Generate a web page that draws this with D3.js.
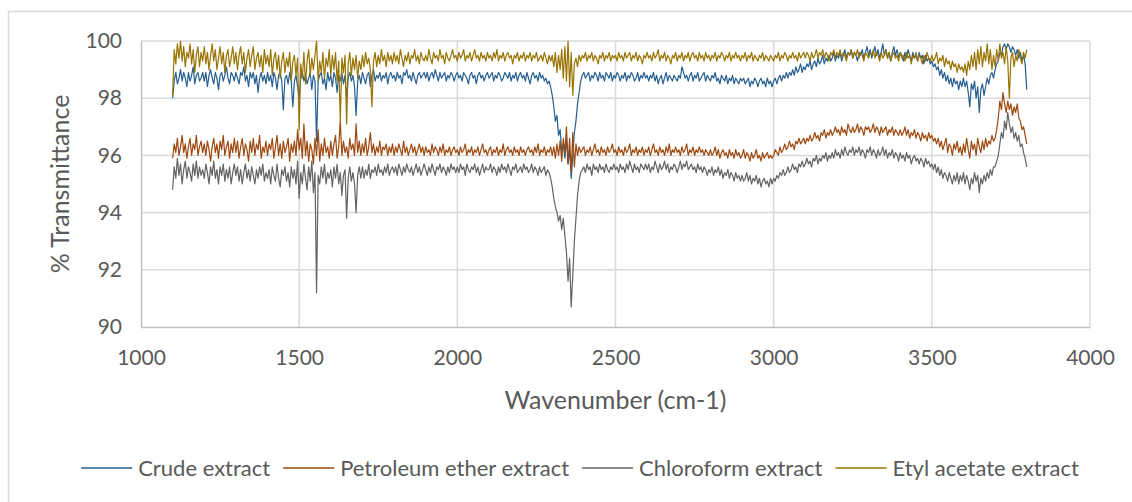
<!DOCTYPE html>
<html>
<head>
<meta charset="utf-8">
<script src="https://cdn.jsdelivr.net/npm/d3@7"></script>
<style>
	body { margin: 0; background: #fff; }
	svg { display: block; font-family: Lato, "Open Sans", sans-serif; }
</style>
</head>
<body>
<div id="chart"></div>
<script>
// Wavenumber grid: 1100 .. 3800 cm-1, one reading every 5 cm-1
var waveStart = 1100, waveStep = 5;

var seriesNames = ["Crude extract", "Petroleum ether extract", "Chloroform extract", "Etyl acetate extract"];
var xTicks = [1000, 1500, 2000, 2500, 3000, 3500, 4000];
var yTicks = [90, 92, 94, 96, 98, 100];

// % transmittance (one row = 100 cm-1)
var crude = [
	98.0, 98.6, 98.9, 98.5, 98.7, 99.0, 98.6, 98.9, 98.7, 98.4, 98.9, 98.6, 98.8, 99.1, 98.5, 98.8, 98.9, 98.6, 98.7, 98.9,
	98.6, 98.9, 98.4, 98.8, 99.0, 98.7, 98.5, 98.9, 98.7, 98.3, 98.8, 98.9, 98.6, 98.8, 99.1, 98.7, 98.5, 98.9, 98.8, 98.6,
	98.9, 98.7, 98.5, 98.9, 98.8, 99.1, 98.6, 98.8, 98.4, 98.9, 98.7, 98.9, 98.5, 98.8, 98.2, 98.7, 98.9, 98.6, 98.8, 98.5,
	98.9, 98.6, 98.8, 98.4, 98.9, 98.7, 98.3, 98.8, 98.9, 98.6, 97.6, 98.7, 98.8, 98.5, 98.9, 98.6, 97.7, 98.6, 98.8, 98.4,
	98.0, 98.7, 98.9, 98.6, 98.8, 98.5, 98.7, 98.9, 98.3, 98.8, 98.6, 96.5, 98.6, 98.8, 98.9, 98.5, 98.7, 98.3, 98.9, 98.6,
	98.8, 98.4, 98.9, 98.7, 98.2, 98.8, 98.6, 98.9, 98.5, 98.8, 98.0, 98.7, 98.9, 98.6, 98.8, 98.4, 97.4, 98.6, 98.8, 98.5,
	98.9, 98.7, 98.5, 98.8, 98.9, 98.4, 98.8, 99.0, 98.6, 98.8, 98.7, 98.9, 98.6, 98.8, 98.7, 98.9, 98.5, 98.8, 98.9, 98.7,
	98.8, 98.6, 98.9, 98.7, 98.8, 98.5, 98.9, 98.8, 99.0, 98.7, 98.8, 98.6, 98.9, 98.7, 98.5, 98.8, 98.9, 98.7, 98.8, 98.9,
	98.7, 98.9, 98.6, 98.8, 98.9, 98.7, 99.0, 98.8, 98.6, 98.9, 98.7, 98.8, 98.9, 98.6, 98.8, 98.7, 98.9, 98.8, 98.6, 98.8,
	98.9, 98.7, 98.8, 98.6, 98.9, 98.8, 98.7, 98.5, 98.8, 98.9, 98.7, 98.8, 98.5, 98.8, 98.9, 98.7, 98.8, 98.6, 98.8, 98.9,
	98.7, 98.8, 98.9, 98.6, 98.8, 98.7, 98.9, 98.8, 98.6, 98.7, 98.9, 98.8, 98.7, 98.9, 98.6, 98.8, 98.7, 98.9, 98.6, 98.8,
	98.9, 98.7, 98.8, 98.6, 98.9, 98.7, 98.5, 98.8, 98.9, 98.7, 98.8, 98.6, 98.9, 98.7, 98.8, 98.6, 98.7, 98.5, 98.6, 98.4,
	98.1, 97.7, 97.2, 97.4, 96.7, 96.9, 96.1, 96.4, 95.9, 96.6, 95.7, 96.2, 95.2, 96.0, 96.8, 97.2, 97.8, 98.2, 98.6, 98.8,
	98.9, 98.7, 98.8, 98.9, 98.6, 98.8, 98.7, 98.9, 98.8, 98.6, 98.9, 98.7, 98.8, 98.6, 98.9, 98.8, 98.7, 98.9, 98.6, 98.8,
	98.7, 98.9, 98.8, 98.6, 98.8, 98.7, 98.9, 98.6, 98.8, 98.7, 98.9, 98.8, 98.6, 98.7, 98.9, 98.6, 98.8, 98.7, 98.9, 98.7,
	98.8, 98.6, 98.8, 98.7, 98.9, 98.6, 98.8, 98.5, 98.7, 98.8, 98.5, 98.7, 98.9, 98.6, 98.8, 98.7, 98.6, 98.8, 98.7, 98.6,
	98.8, 98.7, 99.1, 98.9, 98.7, 98.8, 98.6, 98.8, 98.9, 98.6, 98.8, 98.7, 98.9, 98.6, 98.7, 98.8, 98.9, 98.6, 98.8, 98.7,
	98.6, 98.8, 98.7, 98.9, 98.6, 98.7, 98.5, 98.8, 98.7, 98.6, 98.8, 98.5, 98.7, 98.6, 98.8, 98.5, 98.7, 98.6, 98.5, 98.7,
	98.6, 98.7, 98.5, 98.6, 98.7, 98.4, 98.6, 98.5, 98.7, 98.6, 98.4, 98.6, 98.7, 98.5, 98.6, 98.4, 98.7, 98.5, 98.6, 98.4,
	98.6, 98.7, 98.5, 98.7, 98.8, 98.6, 98.8, 98.7, 98.9, 98.7, 98.9, 98.8, 99.0, 98.8, 99.1, 98.9, 99.0, 99.2, 98.9, 99.1,
	99.0, 99.2, 99.1, 99.3, 99.0, 99.2, 99.3, 99.1, 99.4, 99.2, 99.3, 99.5, 99.2, 99.4, 99.3, 99.5, 99.3, 99.4, 99.6, 99.3,
	99.5, 99.4, 99.6, 99.3, 99.5, 99.7, 99.4, 99.6, 99.5, 99.7, 99.4, 99.6, 99.5, 99.3, 99.6, 99.5, 99.7, 99.4, 99.6, 99.8,
	99.5, 99.7, 99.4, 99.6, 99.8, 99.5, 99.7, 99.4, 99.6, 99.9, 99.5, 99.7, 99.4, 99.6, 99.3, 99.6, 99.8, 99.5, 99.7, 99.4,
	99.6, 99.5, 99.3, 99.6, 99.4, 99.7, 99.5, 99.3, 99.6, 99.4, 99.5, 99.3, 99.6, 99.4, 99.5, 99.2, 99.5, 99.3, 99.4, 99.2,
	99.3, 99.1, 99.2, 99.0, 99.1, 98.8, 99.0, 98.7, 98.9, 98.6, 98.8, 98.5, 98.7, 98.4, 98.7, 98.5, 98.6, 98.3, 98.6, 98.4,
	98.7, 98.4, 98.6, 98.2, 97.7, 98.5, 98.3, 98.6, 98.0, 98.4, 97.5, 98.3, 98.5, 98.1, 98.4, 98.7, 98.5, 98.8, 98.9, 98.7,
	99.0, 99.2, 99.3, 99.6, 99.5, 99.8, 99.9, 99.7, 99.9, 99.8, 99.6, 99.8, 99.7, 99.5, 99.7, 99.4, 99.6, 99.3, 99.5, 99.2,
	98.3
];

var petroleum = [
	95.9, 96.4, 96.1, 96.6, 96.0, 96.3, 96.7, 96.1, 96.4, 95.9, 96.3, 96.6, 96.0, 96.4, 96.2, 96.7, 96.0, 96.3, 96.5, 96.1,
	96.4, 96.0, 96.5, 96.2, 95.8, 96.3, 96.6, 96.1, 96.4, 95.9, 96.5, 96.2, 96.7, 96.0, 96.3, 96.5, 95.9, 96.4, 96.1, 96.6,
	96.1, 96.5, 95.9, 96.3, 96.6, 96.0, 96.4, 96.2, 95.8, 96.5, 96.1, 96.6, 96.0, 96.4, 96.2, 96.7, 95.9, 96.3, 96.1, 96.5,
	96.0, 96.4, 96.2, 96.6, 95.9, 96.3, 96.7, 96.0, 96.4, 95.9, 96.5, 96.1, 96.3, 96.6, 95.8, 96.4, 96.1, 96.5, 96.0, 96.9,
	96.2, 96.6, 95.9, 97.1, 96.0, 96.5, 95.8, 96.4, 96.2, 95.7, 96.6, 96.0, 96.9, 95.8, 96.4, 96.0, 96.6, 96.1, 96.3, 95.9,
	96.5, 96.0, 96.4, 96.7, 95.9, 96.3, 97.2, 96.0, 96.5, 96.1, 96.3, 95.9, 96.6, 96.2, 96.4, 96.0, 97.1, 96.1, 96.5, 96.0,
	96.4, 96.1, 96.6, 96.0, 96.3, 96.8, 96.1, 96.4, 96.0, 96.3, 96.1, 96.5, 96.0, 96.3, 96.2, 96.4, 96.0, 96.3, 96.1, 96.4,
	96.0, 96.3, 96.1, 96.4, 96.2, 96.0, 96.5, 96.1, 96.3, 96.0, 96.2, 96.4, 96.1, 96.3, 96.0, 96.2, 96.4, 96.1, 96.3, 96.0,
	96.3, 96.1, 96.2, 96.0, 96.4, 96.1, 96.3, 96.2, 96.0, 96.3, 96.1, 96.4, 96.0, 96.2, 96.1, 96.3, 96.0, 96.2, 96.3, 96.1,
	96.2, 96.0, 96.3, 96.1, 96.2, 96.4, 96.0, 96.2, 96.1, 96.3, 96.0, 96.2, 96.1, 96.3, 96.0, 96.2, 96.4, 96.1, 96.2, 96.0,
	96.2, 96.3, 96.0, 96.2, 96.1, 96.3, 96.0, 96.2, 96.1, 96.4, 96.0, 96.2, 96.3, 96.1, 96.2, 96.0, 96.3, 96.1, 96.2, 96.0,
	96.3, 96.1, 96.2, 96.0, 96.2, 96.3, 96.1, 96.2, 96.0, 96.3, 96.1, 96.4, 96.0, 96.2, 96.1, 96.3, 96.0, 96.2, 96.1, 96.3,
	96.0, 96.3, 95.9, 96.4, 96.0, 96.5, 95.8, 96.6, 96.1, 97.0, 95.7, 96.6, 95.4, 96.8, 95.6, 96.4, 96.0, 96.3, 96.1, 96.2,
	96.3, 96.0, 96.2, 96.1, 96.3, 96.0, 96.2, 96.4, 96.1, 96.2, 96.0, 96.3, 96.1, 96.2, 96.0, 96.3, 96.1, 96.2, 96.4, 96.1,
	96.2, 96.0, 96.3, 96.1, 96.2, 96.0, 96.3, 96.1, 96.2, 96.4, 96.0, 96.2, 96.1, 96.3, 96.0, 96.2, 96.1, 96.3, 96.0, 96.2,
	96.1, 96.3, 96.0, 96.2, 96.4, 96.1, 96.2, 96.0, 96.3, 96.1, 96.2, 96.0, 96.3, 96.1, 96.4, 96.0, 96.2, 96.1, 96.3, 96.1,
	96.2, 96.0, 96.3, 96.1, 96.2, 96.4, 96.0, 96.2, 96.1, 96.3, 96.0, 96.2, 96.1, 96.3, 96.1, 96.2, 96.0, 96.2, 96.1, 96.0,
	96.2, 96.0, 96.1, 96.3, 96.0, 96.2, 95.9, 96.1, 96.2, 96.0, 96.1, 95.9, 96.2, 96.0, 96.1, 95.9, 96.2, 96.0, 96.1, 95.9,
	96.0, 96.2, 95.9, 96.1, 96.0, 95.8, 96.1, 95.9, 96.0, 96.2, 95.9, 96.0, 95.8, 96.1, 95.9, 96.0, 96.1, 95.9, 96.0, 95.9,
	96.0, 96.2, 96.1, 96.0, 96.3, 96.1, 96.2, 96.4, 96.2, 96.3, 96.5, 96.3, 96.4, 96.2, 96.5, 96.4, 96.6, 96.4, 96.5, 96.6,
	96.4, 96.6, 96.5, 96.7, 96.5, 96.6, 96.8, 96.6, 96.7, 96.5, 96.8, 96.7, 96.9, 96.6, 96.8, 96.7, 96.9, 96.7, 96.8, 97.0,
	96.8, 96.9, 96.7, 97.0, 96.8, 96.9, 96.7, 97.1, 96.9, 96.8, 97.0, 96.8, 96.9, 97.1, 96.8, 97.0, 96.9, 96.7, 97.0, 96.9,
	97.0, 96.8, 96.9, 97.1, 96.8, 97.0, 96.9, 96.7, 97.0, 96.8, 96.9, 97.0, 96.7, 96.9, 96.8, 97.0, 96.7, 96.9, 96.8, 96.7,
	96.9, 96.7, 96.8, 97.0, 96.7, 96.9, 96.6, 96.8, 96.7, 96.9, 96.6, 96.8, 96.7, 96.5, 96.8, 96.6, 96.7, 96.5, 96.8, 96.6,
	96.7, 96.5, 96.6, 96.4, 96.6, 96.3, 96.5, 96.2, 96.4, 96.6, 96.1, 96.4, 96.3, 96.0, 96.4, 96.2, 96.5, 96.1, 96.3, 96.0,
	96.4, 96.1, 96.6, 96.2, 95.9, 96.5, 96.2, 96.4, 96.0, 96.6, 96.3, 96.1, 96.5, 96.2, 96.6, 96.3, 96.5, 96.4, 96.7, 96.5,
	96.6, 96.9, 97.3, 97.9, 97.6, 98.2, 97.8, 97.5, 97.9, 97.6, 97.8, 97.4, 97.7, 97.5, 97.8, 97.3, 97.2, 96.9, 97.0, 96.7,
	96.4
];

var chloroform = [
	94.8, 95.6, 95.2, 95.9, 95.3, 95.7, 95.0, 95.5, 95.8, 95.2, 95.6, 95.4, 95.1, 95.7, 95.3, 95.8, 95.2, 95.6, 95.3, 95.5,
	95.2, 95.7, 95.4, 95.0, 95.6, 95.3, 95.8, 95.2, 95.5, 95.0, 95.6, 95.3, 95.7, 95.1, 95.5, 95.2, 95.6, 95.0, 95.4, 95.7,
	95.3, 95.6, 95.1, 95.5, 95.0, 95.4, 95.7, 95.2, 95.5, 95.1, 95.6, 95.3, 95.0, 95.5, 95.2, 95.6, 95.3, 95.7, 95.1, 95.4,
	95.2, 95.5, 95.0, 95.6, 95.3, 95.1, 95.7, 95.2, 94.9, 95.5, 95.3, 95.6, 95.1, 95.4, 94.9, 95.6, 95.2, 95.5, 95.0, 95.8,
	94.5, 95.4, 95.0, 95.7, 95.2, 94.8, 95.6, 95.1, 95.8, 94.7, 95.4, 91.2, 95.3, 95.0, 95.6, 95.2, 95.7, 95.0, 95.4, 95.2,
	95.5, 94.9, 95.6, 95.2, 95.7, 95.0, 95.4, 94.6, 95.3, 95.5, 93.8, 95.2, 95.6, 95.1, 95.4, 95.0, 94.0, 95.3, 95.6, 95.2,
	95.6, 95.2, 95.5, 95.3, 95.7, 95.2, 95.5, 95.4, 95.6, 95.3, 95.7, 95.4, 95.5, 95.3, 95.6, 95.4, 95.7, 95.3, 95.5, 95.6,
	95.4, 95.6, 95.3, 95.7, 95.5, 95.3, 95.6, 95.4, 95.7, 95.5, 95.4, 95.6, 95.3, 95.5, 95.7, 95.4, 95.6, 95.3, 95.5, 95.7,
	95.5, 95.3, 95.6, 95.4, 95.7, 95.5, 95.3, 95.6, 95.5, 95.7, 95.4, 95.6, 95.5, 95.3, 95.6, 95.4, 95.7, 95.5, 95.6, 95.4,
	95.6, 95.4, 95.7, 95.5, 95.6, 95.3, 95.7, 95.5, 95.4, 95.6, 95.5, 95.7, 95.4, 95.6, 95.3, 95.5, 95.7, 95.4, 95.6, 95.5,
	95.5, 95.7, 95.4, 95.6, 95.5, 95.3, 95.6, 95.4, 95.7, 95.5, 95.6, 95.4, 95.7, 95.5, 95.3, 95.6, 95.5, 95.7, 95.4, 95.5,
	95.6, 95.4, 95.7, 95.5, 95.6, 95.4, 95.5, 95.7, 95.4, 95.6, 95.5, 95.3, 95.6, 95.4, 95.5, 95.6, 95.3, 95.5, 95.4, 95.2,
	94.9, 94.5, 94.2, 94.0, 93.7, 93.9, 93.4, 93.8, 93.2, 92.6, 91.6, 92.4, 90.7, 91.8, 93.0, 93.8, 94.6, 95.1, 95.4, 95.5,
	95.6, 95.4, 95.7, 95.5, 95.6, 95.3, 95.7, 95.5, 95.6, 95.4, 95.7, 95.5, 95.6, 95.4, 95.7, 95.5, 95.4, 95.6, 95.5, 95.7,
	95.5, 95.6, 95.4, 95.7, 95.5, 95.6, 95.4, 95.7, 95.5, 95.8, 95.6, 95.4, 95.7, 95.5, 95.6, 95.4, 95.7, 95.6, 95.5, 95.7,
	95.5, 95.7, 95.4, 95.6, 95.5, 95.8, 95.6, 95.4, 95.7, 95.5, 95.6, 95.8, 95.5, 95.7, 95.4, 95.6, 95.5, 95.7, 95.6, 95.4,
	95.6, 95.8, 95.5, 95.7, 95.6, 95.8, 95.5, 95.6, 95.7, 95.5, 95.6, 95.4, 95.7, 95.5, 95.6, 95.4, 95.6, 95.5, 95.3, 95.5,
	95.4, 95.6, 95.3, 95.5, 95.4, 95.6, 95.3, 95.5, 95.2, 95.4, 95.3, 95.5, 95.2, 95.4, 95.3, 95.1, 95.4, 95.2, 95.3, 95.1,
	95.3, 95.1, 95.2, 95.4, 95.1, 95.3, 95.0, 95.2, 95.1, 95.3, 95.0, 95.2, 94.9, 95.1, 95.2, 95.0, 95.1, 94.9, 95.2, 95.0,
	95.2, 95.1, 95.3, 95.2, 95.4, 95.3, 95.5, 95.3, 95.4, 95.6, 95.4, 95.5, 95.7, 95.5, 95.6, 95.4, 95.7, 95.6, 95.8, 95.6,
	95.7, 95.9, 95.7, 95.8, 95.6, 95.9, 95.8, 96.0, 95.7, 95.9, 95.8, 96.0, 95.9, 96.1, 95.8, 96.0, 95.9, 96.1, 95.9, 96.2,
	96.0, 96.1, 95.9, 96.2, 96.0, 96.3, 96.1, 96.0, 96.2, 96.1, 96.3, 96.0, 96.2, 96.1, 96.3, 96.0, 96.2, 96.1, 95.9, 96.2,
	96.1, 96.3, 96.0, 96.2, 96.1, 95.9, 96.2, 96.0, 96.1, 96.3, 96.0, 96.2, 95.9, 96.1, 96.0, 96.2, 95.9, 96.1, 96.0, 95.8,
	96.1, 95.9, 96.0, 95.8, 96.1, 95.9, 96.0, 95.7, 95.9, 96.0, 95.8, 95.9, 95.7, 95.9, 95.8, 95.6, 95.9, 95.7, 95.8, 95.6,
	95.7, 95.5, 95.7, 95.4, 95.6, 95.3, 95.5, 95.2, 95.4, 95.3, 95.1, 95.4, 95.2, 95.0, 95.3, 95.1, 95.4, 95.0, 95.3, 95.1,
	95.4, 95.0, 95.3, 95.1, 94.8, 95.2, 95.0, 95.4, 95.1, 95.3, 94.7, 95.2, 95.0, 95.3, 95.1, 95.4, 95.2, 95.5, 95.3, 95.6,
	95.6, 95.8, 96.0, 96.4, 96.8, 96.6, 97.2, 96.9, 97.5, 97.1, 96.8, 97.0, 96.6, 96.8, 96.5, 96.7, 96.3, 96.4, 96.1, 95.9,
	95.6
];

var etylAcetate = [
	98.1, 99.7, 99.2, 99.9, 99.4, 100.0, 99.3, 99.8, 99.1, 99.6, 99.4, 99.9, 99.2, 99.7, 98.9, 99.5, 99.8, 99.1, 99.6, 99.3,
	99.8, 99.2, 99.6, 99.0, 99.5, 99.9, 99.3, 99.7, 99.0, 99.4, 99.8, 99.2, 99.6, 98.9, 99.5, 99.7, 99.1, 99.4, 99.8, 99.2,
	99.6, 99.0, 99.5, 99.8, 99.2, 99.6, 98.9, 99.4, 99.7, 99.1, 99.5, 99.8, 99.0, 99.4, 99.6, 99.1, 99.5, 98.9, 99.7, 99.2,
	99.5, 99.1, 99.7, 98.8, 99.4, 99.6, 99.0, 99.5, 98.7, 99.3, 99.6, 98.9, 99.4, 99.1, 99.6, 98.6, 99.3, 99.5, 98.8, 99.4,
	96.9, 99.2, 98.7, 99.6, 98.5, 99.3, 99.7, 98.8, 99.4, 99.0, 99.5, 100.0, 98.6, 99.3, 98.9, 99.6, 98.7, 99.4, 99.1, 99.7,
	98.8, 99.5, 99.0, 99.6, 98.6, 99.3, 97.2, 99.4, 98.9, 99.5, 97.1, 99.2, 99.6, 98.8, 99.4, 99.0, 99.5, 98.7, 99.3, 99.0,
	99.5, 99.1, 99.6, 99.2, 99.4, 99.0, 97.7, 99.3, 99.6, 99.1, 99.5, 99.2, 99.7, 99.3, 99.5, 99.1, 99.6, 99.3, 99.5, 99.2,
	99.6, 99.3, 99.5, 99.2, 99.7, 99.4, 99.1, 99.5, 99.3, 99.6, 99.2, 99.5, 99.4, 99.7, 99.3, 99.5, 99.2, 99.6, 99.4, 99.3,
	99.5, 99.3, 99.7, 99.4, 99.2, 99.6, 99.4, 99.5, 99.3, 99.7, 99.4, 99.5, 99.2, 99.6, 99.4, 99.3, 99.5, 99.7, 99.4, 99.5,
	99.3, 99.6, 99.4, 99.5, 99.7, 99.3, 99.5, 99.4, 99.6, 99.3, 99.5, 99.7, 99.4, 99.5, 99.3, 99.6, 99.4, 99.5, 99.3, 99.6,
	99.4, 99.5, 99.3, 99.6, 99.4, 99.7, 99.3, 99.5, 99.4, 99.6, 99.3, 99.5, 99.6, 99.4, 99.5, 99.2, 99.5, 99.4, 99.6, 99.3,
	99.5, 99.4, 99.6, 99.3, 99.5, 99.4, 99.6, 99.3, 99.5, 99.4, 99.6, 99.3, 99.4, 99.5, 99.3, 99.6, 99.4, 99.2, 99.5, 99.3,
	99.5, 99.1, 99.6, 98.9, 99.5, 99.0, 99.7, 98.7, 99.8, 98.6, 100.0, 98.4, 99.6, 98.1, 99.2, 99.4, 99.1, 99.5, 99.3, 99.5,
	99.4, 99.6, 99.3, 99.5, 99.4, 99.6, 99.3, 99.5, 99.4, 99.2, 99.5, 99.4, 99.6, 99.3, 99.5, 99.4, 99.6, 99.3, 99.5, 99.4,
	99.5, 99.3, 99.6, 99.4, 99.5, 99.3, 99.6, 99.4, 99.5, 99.6, 99.3, 99.5, 99.4, 99.6, 99.3, 99.5, 99.4, 99.2, 99.5, 99.4,
	99.6, 99.4, 99.5, 99.3, 99.6, 99.4, 99.5, 99.7, 99.3, 99.5, 99.4, 99.6, 99.3, 99.5, 99.4, 99.2, 99.5, 99.4, 99.6, 99.3,
	99.5, 99.4, 99.6, 99.3, 99.5, 99.4, 99.6, 99.3, 99.5, 99.6, 99.4, 99.5, 99.3, 99.6, 99.4, 99.5, 99.3, 99.6, 99.4, 99.5,
	99.3, 99.5, 99.4, 99.6, 99.3, 99.5, 99.4, 99.6, 99.5, 99.3, 99.5, 99.4, 99.6, 99.3, 99.5, 99.4, 99.6, 99.4, 99.5, 99.3,
	99.5, 99.4, 99.6, 99.3, 99.5, 99.4, 99.6, 99.3, 99.5, 99.4, 99.3, 99.5, 99.4, 99.6, 99.3, 99.5, 99.4, 99.3, 99.5, 99.4,
	99.3, 99.5, 99.4, 99.6, 99.3, 99.5, 99.4, 99.6, 99.5, 99.3, 99.5, 99.4, 99.6, 99.4, 99.5, 99.3, 99.6, 99.4, 99.5, 99.6,
	99.4, 99.6, 99.5, 99.3, 99.6, 99.4, 99.5, 99.7, 99.4, 99.6, 99.5, 99.7, 99.4, 99.6, 99.5, 99.3, 99.6, 99.5, 99.7, 99.4,
	99.6, 99.5, 99.7, 99.4, 99.6, 99.5, 99.3, 99.6, 99.5, 99.7, 99.4, 99.6, 99.5, 99.7, 99.4, 99.6, 99.5, 99.3, 99.6, 99.5,
	99.4, 99.6, 99.5, 99.7, 99.4, 99.6, 99.5, 99.3, 99.6, 99.4, 99.5, 99.7, 99.4, 99.6, 99.3, 99.5, 99.6, 99.4, 99.5, 99.3,
	99.6, 99.4, 99.5, 99.3, 99.6, 99.4, 99.5, 99.2, 99.5, 99.4, 99.6, 99.3, 99.5, 99.4, 99.2, 99.5, 99.3, 99.6, 99.4, 99.3,
	99.5, 99.3, 99.4, 99.6, 99.2, 99.4, 99.3, 99.5, 99.1, 99.4, 99.2, 99.3, 99.0, 99.3, 99.1, 99.2, 98.9, 99.2, 99.0, 99.1,
	98.9, 99.2, 98.8, 99.3, 99.0, 99.5, 99.1, 99.6, 99.0, 99.7, 99.2, 99.8, 99.1, 99.6, 99.3, 99.9, 99.2, 99.7, 99.0, 99.5,
	99.1, 99.7, 99.3, 99.9, 99.4, 99.6, 99.2, 99.8, 99.3, 98.0, 99.4, 99.6, 99.1, 99.5, 99.3, 99.7, 99.4, 99.2, 99.6, 99.4,
	99.7
];

var seriesValues = [crude, petroleum, chloroform, etylAcetate];
var colors = ["#255E91", "#9E480E", "#636363", "#997300"];

var width = 1132, height = 502;
var margin = {top: 41, right: 42, bottom: 175, left: 141};

var xScale = d3.scaleLinear().domain([1000, 4000]).range([margin.left, width - margin.right]);
var yScale = d3.scaleLinear().domain([90, 100]).range([height - margin.bottom, margin.top]);

var svg = d3.select("#chart").append("svg")
		.attr("width", width)
		.attr("height", height);

// Chart area border
svg.append("rect")
		.attr("x", 8.5)
		.attr("y", 11.5)
		.attr("width", width + 20)
		.attr("height", height + 20)
		.style("fill", "none")
		.style("stroke", "#d9d9d9")
		.style("stroke-width", 1.5);

// Gridlines
svg.append("g").attr("class", "grid-x")
	.selectAll("line")
	.data(xTicks.slice(1))
	.enter().append("line")
		.attr("x1", function(d) { return xScale(d); })
		.attr("x2", function(d) { return xScale(d); })
		.attr("y1", yScale(90))
		.attr("y2", yScale(100))
		.style("stroke", "#d9d9d9")
		.style("stroke-width", 1.5);

svg.append("g").attr("class", "grid-y")
	.selectAll("line")
	.data(yTicks.slice(1))
	.enter().append("line")
		.attr("x1", xScale(1000))
		.attr("x2", xScale(4000))
		.attr("y1", function(d) { return yScale(d); })
		.attr("y2", function(d) { return yScale(d); })
		.style("stroke", "#d9d9d9")
		.style("stroke-width", 1.5);

// Axes
var xAxis = d3.axisBottom(xScale).tickValues(xTicks).tickSize(0).tickPadding(23).tickFormat(d3.format("d"));
var yAxis = d3.axisLeft(yScale).tickValues(yTicks).tickSize(0).tickPadding(19).tickFormat(d3.format("d"));

svg.append("g")
		.attr("class", "x axis")
		.attr("transform", "translate(0," + yScale(90) + ")")
		.call(xAxis);

svg.append("g")
		.attr("class", "y axis")
		.attr("transform", "translate(" + xScale(1000) + ",0)")
		.call(yAxis);

svg.selectAll(".axis .domain")
		.style("stroke", "#bfbfbf")
		.style("stroke-width", 1.5);

svg.selectAll(".axis text")
		.style("font-family", "Lato, 'Open Sans', sans-serif")
		.style("font-size", "21px")
		.style("fill", "#595959");

// Series lines, clipped to the plot area
svg.append("clipPath").attr("id", "plot-clip")
	.append("rect")
		.attr("x", xScale(1000))
		.attr("y", yScale(100) - 2)
		.attr("width", xScale(4000) - xScale(1000))
		.attr("height", yScale(90) - yScale(100) + 2);

var line = d3.line()
		.x(function(d, i) { return xScale(waveStart + i * waveStep); })
		.y(function(d) { return yScale(d); });

svg.append("g").attr("class", "chart-body")
		.attr("clip-path", "url(#plot-clip)")
	.selectAll(".line")
	.data(seriesValues)
	.enter().append("path")
		.attr("class", "line")
		.attr("d", function(d) { return line(d); })
		.style("fill", "none")
		.style("stroke", function(d, i) { return colors[i]; })
		.style("stroke-width", 1.2)
		.style("stroke-linejoin", "round");

// Axis titles
svg.append("text")
		.attr("x", (xScale(1000) + xScale(4000)) / 2)
		.attr("y", 409)
		.attr("text-anchor", "middle")
		.style("font-size", "25px")
		.style("fill", "#595959")
		.text("Wavenumber (cm-1)");

svg.append("text")
		.attr("transform", "translate(69," + yScale(95) + ") rotate(-90)")
		.attr("text-anchor", "middle")
		.style("font-size", "25px")
		.style("fill", "#595959")
		.text("% Transmittance");

// Legend
var legend = svg.append("g").attr("class", "legend");
var lineLen = 51, lineGap = 6, itemGap = 13, legendY = 468;
var cursor = 0;
seriesNames.forEach(function(name, i) {
	var item = legend.append("g").attr("transform", "translate(" + cursor + ",0)");
	item.append("line")
			.attr("x1", 0).attr("x2", lineLen)
			.attr("y1", 0).attr("y2", 0)
			.style("stroke", colors[i])
			.style("stroke-width", 1.5);
	var t = item.append("text")
			.attr("x", lineLen + lineGap)
			.attr("y", 0)
			.attr("dy", "0.35em")
			.style("font-size", "22px")
			.style("fill", "#595959")
			.text(name);
	cursor += lineLen + lineGap + t.node().getComputedTextLength() + itemGap;
});
cursor -= itemGap;
legend.attr("transform", "translate(" + (580 - cursor / 2) + "," + legendY + ")");
</script>
</body>
</html>
